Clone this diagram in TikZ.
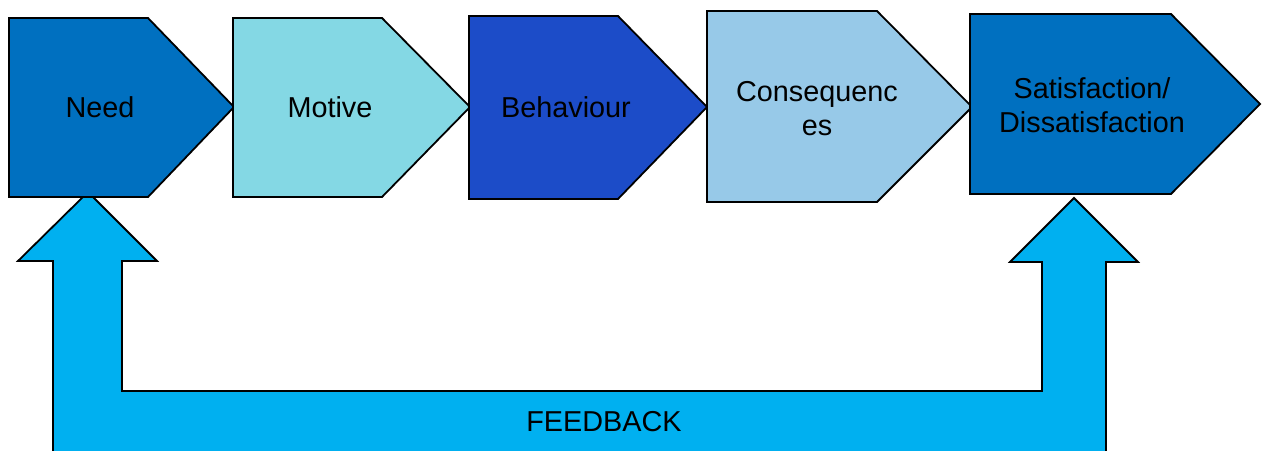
\documentclass[tikz,border=0pt]{standalone}
\usepackage{fontspec}
\setmainfont{Liberation Sans}
\definecolor{cNeed}{HTML}{0070C0}
\definecolor{cMotive}{HTML}{84D8E4}
\definecolor{cBehav}{HTML}{1C4CC8}
\definecolor{cConseq}{HTML}{97C9E8}
\definecolor{cSat}{HTML}{0070C0}
\definecolor{cFeed}{HTML}{00B0F0}
\begin{document}
\begin{tikzpicture}[x=1pt,y=-1pt,
  chev/.style={draw=black,line width=1.8pt,line join=miter},
  lbl/.style={font=\fontsize{28.8}{34}\selectfont,align=center,inner sep=0pt,text=black}]
\useasboundingbox (0,0) rectangle (1263,450);
\begin{scope}
\clip (0,0) rectangle (1263,450);
% feedback arrow
\draw[chev,fill=cFeed] (53,470) -- (53,261) -- (18,261) -- (88,192) -- (157,261) -- (122,261) -- (122,391)
  -- (1042,391) -- (1042,262) -- (1010,262) -- (1074,198) -- (1138,262) -- (1106,262) -- (1106,470) -- cycle;
\end{scope}
% chevrons
\draw[chev,fill=cNeed] (9,18) -- (148,18) -- (234,107) -- (148,197) -- (9,197) -- cycle;
\draw[chev,fill=cMotive] (233,18) -- (382,18) -- (470,107) -- (382,197) -- (233,197) -- cycle;
\draw[chev,fill=cBehav] (469,16) -- (618,16) -- (707,107) -- (618,199) -- (469,199) -- cycle;
\draw[chev,fill=cConseq] (707,11) -- (877,11) -- (972,107) -- (877,202) -- (707,202) -- cycle;
\draw[chev,fill=cSat] (970,14) -- (1171,14) -- (1260,104) -- (1171,194) -- (970,194) -- cycle;
% labels
\node[lbl] (need) at (100,107) {Need};
\node[lbl] (motive) at (330,107) {Motive};
\node[lbl] (behav) at (566,107) {Behaviour};
\node[lbl] (conseq) at (817,109) {Consequenc\\es};
\node[lbl] (sat) at (1092,105) {Satisfaction/\\Dissatisfaction};
\node[lbl] (feed) at (604,422) {FEEDBACK};
\end{tikzpicture}
\end{document}
